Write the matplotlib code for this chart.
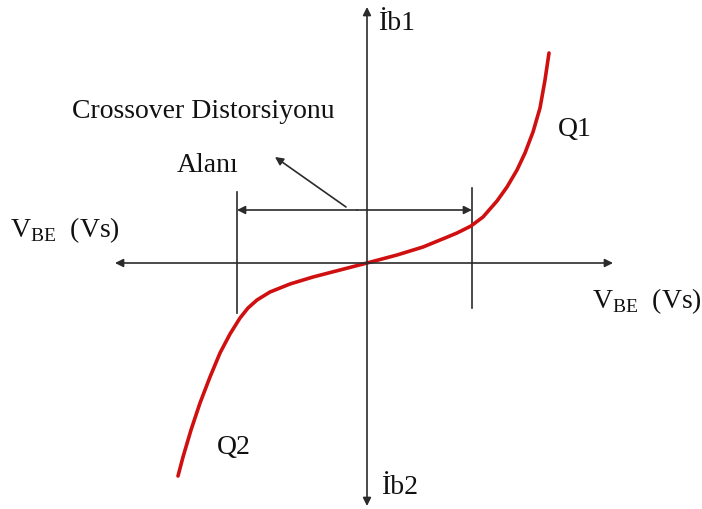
import numpy as np
import matplotlib
matplotlib.use("Agg")
import matplotlib.pyplot as plt

plt.rcParams['font.family'] = ['Liberation Serif', 'DejaVu Serif']
plt.rcParams['mathtext.fontset'] = 'custom'
plt.rcParams['mathtext.rm'] = 'Liberation Serif'

# transfer curve (arbitrary units, origin at axis crossing)
vbe = [-189, -184, -176, -167, -157, -147, -137, -127, -119, -110, -97, -77,
       -54, -27, 0, 30, 56, 78, 90, 104, 116, 130, 140, 150, 158, 166,
       173, 178, 182]
ib = [-213, -194, -167, -140, -114, -90, -71, -55, -45, -37, -29, -21,
      -14, -7, 0, 8, 16, 25, 30, 37, 46, 62, 76, 93, 110, 131,
      155, 183, 210]

# crossover zone limits
zone = [-130, 105]

ink = '#2b2b2b'

fig = plt.figure(figsize=(7.02, 5.09), dpi=100)
ax = fig.add_axes([0, 0, 1, 1])
ax.set_xlim(-367, 335)
ax.set_ylim(-246, 263)
ax.axis('off')

arr = dict(arrowstyle='-|>', color=ink, lw=1.2, mutation_scale=12, shrinkA=0, shrinkB=0)

# axes with arrows
ax.annotate('', xy=(-252, 0), xytext=(0, 0), arrowprops=arr)
ax.annotate('', xy=(246, 0), xytext=(0, 0), arrowprops=arr)
ax.annotate('', xy=(0, 256), xytext=(0, 0), arrowprops=arr)
ax.annotate('', xy=(0, -243), xytext=(0, 0), arrowprops=arr)

# zone boundaries
ax.plot([zone[0], zone[0]], [71, -50], color=ink, lw=1.2)
ax.plot([zone[1], zone[1]], [75, -45], color=ink, lw=1.2)

# double arrow over the zone
ax.annotate('', xy=(zone[0], 53), xytext=(-10, 53), arrowprops=arr)
ax.annotate('', xy=(zone[1], 53), xytext=(-10, 53), arrowprops=arr)

# pointer to label
ax.annotate('', xy=(-92, 106), xytext=(-21, 56), arrowprops=arr)

ax.plot(vbe, ib, color='#d01010', lw=2.6, solid_capstyle='round', solid_joinstyle='round')

fs = 20
ax.text(-295, 151, 'Crossover Distorsiyonu', fontsize=fs, ha='left', va='center', color='#111')
ax.text(-159, 98, 'Alanı', fontsize=fs, ha='center', va='center', color='#111')
ax.text(11, 239, 'İb1', fontsize=fs, ha='left', va='center', color='#111')
ax.text(14, -224, 'İb2', fontsize=fs, ha='left', va='center', color='#111')
ax.text(-357, 33, r'V$_{\mathrm{BE}}$  (Vs)', fontsize=fs, ha='left', va='center', color='#111')
ax.text(225, -38, r'V$_{\mathrm{BE}}$  (Vs)', fontsize=fs, ha='left', va='center', color='#111')
ax.text(191, 134, 'Q1', fontsize=fs, ha='left', va='center', color='#111')
ax.text(-150, -184, 'Q2', fontsize=fs, ha='left', va='center', color='#111')

fig.savefig('out.png', dpi=100)
